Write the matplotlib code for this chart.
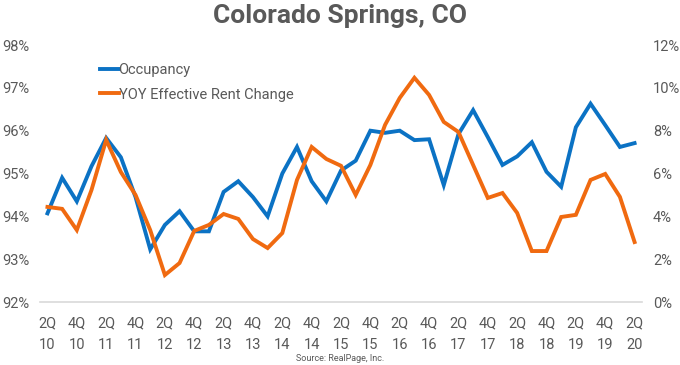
import numpy as np
import matplotlib.pyplot as plt

# quarterly data 2Q10 .. 2Q20
quarters = [f"{q}Q{y:02d}" for y in range(10, 21) for q in range(1, 5)][1:-2]
occupancy = [94.07, 94.9, 94.35, 95.17, 95.83, 95.38, 94.45, 93.23, 93.8, 94.12,
             93.65, 93.65, 94.57, 94.82, 94.45, 94.0, 95.0, 95.62, 94.82, 94.35,
             95.07, 95.3, 96.0, 95.95, 96.0, 95.78, 95.8, 94.73, 95.92, 96.48,
             95.85, 95.2, 95.4, 95.73, 95.04, 94.69, 96.08, 96.63, 96.13, 95.62,
             95.71]
rent_change = [4.44, 4.35, 3.36, 5.23, 7.57, 6.07, 5.0, 3.36, 1.26, 1.82,
               3.32, 3.6, 4.11, 3.88, 2.94, 2.52, 3.22, 5.7, 7.24, 6.68,
               6.36, 5.0, 6.4, 8.27, 9.53, 10.47, 9.67, 8.41, 7.94, 6.4,
               4.86, 5.09, 4.16, 2.38, 2.38, 3.97, 4.07, 5.7, 5.98, 4.91,
               2.8]
left_ticks = [92, 93, 94, 95, 96, 97, 98]
right_ticks = [0, 2, 4, 6, 8, 10, 12]

BLUE = '#0B72C4'
ORANGE = '#F06A10'
GREY = '#595959'

plt.rcParams['font.family'] = ['Roboto', 'DejaVu Sans']

fig = plt.figure(figsize=(6.8, 3.65), dpi=100)
ax1 = fig.add_axes([0.059, 0.1726, 0.885, 0.704])
ax2 = ax1.twinx()

x = np.arange(len(quarters))
l1, = ax1.plot(x, occupancy, color=BLUE, lw=2.8, label='Occupancy', solid_joinstyle='miter')
l2, = ax2.plot(x, rent_change, color=ORANGE, lw=2.8, label='YOY Effective Rent Change', solid_joinstyle='miter')

ax1.set_xlim(-0.5, len(quarters) - 0.5)
ax1.set_ylim(92, 98)
ax2.set_ylim(0, 12)
ax1.set_yticks(left_ticks)
ax1.set_yticklabels([f"{v}%" for v in left_ticks])
ax2.set_yticks(right_ticks)
ax2.set_yticklabels([f"{v}%" for v in right_ticks])

ticks = x[::2]
ax1.set_xticks(ticks)
ax1.set_xticklabels([quarters[i][:2] + "\n" + quarters[i][2:] for i in ticks], linespacing=1.75)

for ax in (ax1, ax2):
    for s in ax.spines.values():
        s.set_visible(False)
    ax.tick_params(length=0, labelsize=10.5, colors=GREY)
ax1.spines['bottom'].set_visible(True)
ax1.spines['bottom'].set_color('#D9D9D9')
ax1.spines['bottom'].set_linewidth(1.2)
ax1.tick_params(axis='x', pad=10)
ax1.tick_params(axis='y', pad=8)
ax2.tick_params(axis='y', pad=8)

leg = ax1.legend(handles=[l1, l2], loc='upper left', bbox_to_anchor=(0.077, 0.98),
                 frameon=False, fontsize=10.5, handlelength=1.3, handletextpad=0.0,
                 labelspacing=0.7)
for t in leg.get_texts():
    t.set_color(GREY)

fig.text(0.5, 0.955, 'Colorado Springs, CO', ha='center', va='center',
         fontsize=19, fontweight='bold', color=GREY)
fig.text(0.5, 0.018, 'Source: RealPage, Inc.', ha='center', va='center',
         fontsize=6.5, color=GREY)

fig.savefig('out.png', dpi=100)
